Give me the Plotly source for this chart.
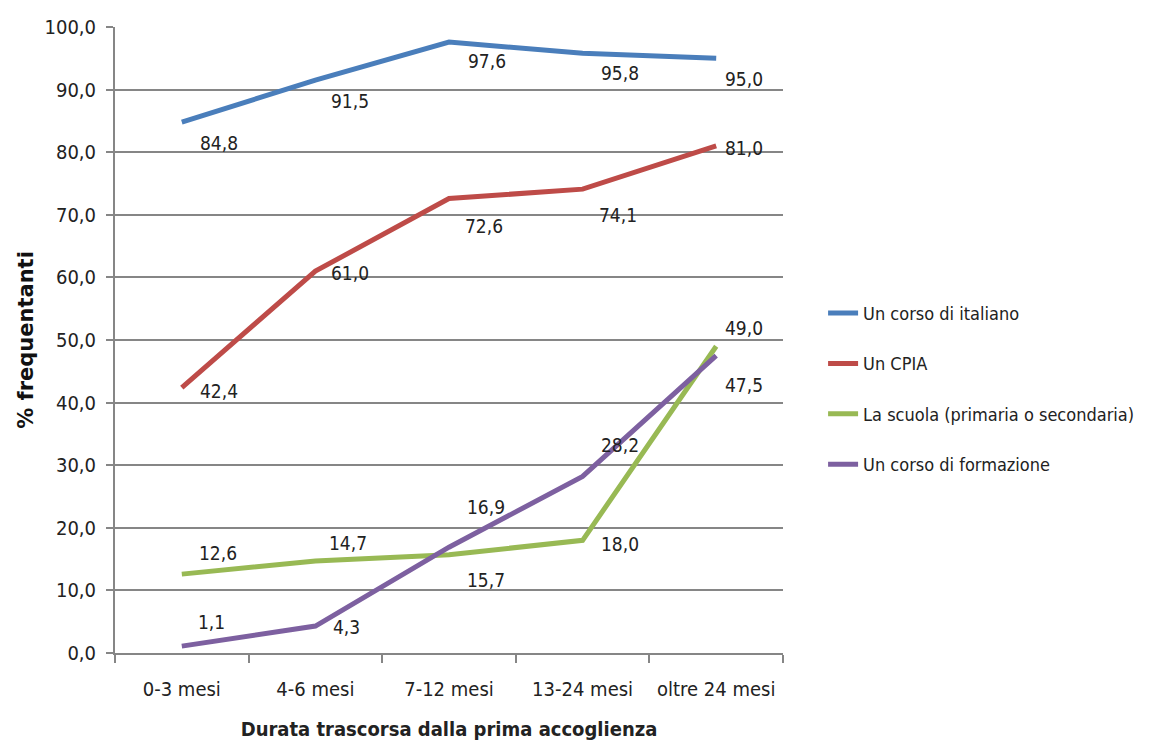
import plotly.graph_objects as go

categories = ["0-3 mesi", "4-6 mesi", "7-12 mesi", "13-24 mesi", "oltre 24 mesi"]
series_names = ["Un corso di italiano", "Un CPIA", "La scuola (primaria o secondaria)", "Un corso di formazione"]
italiano = [84.8, 91.5, 97.6, 95.8, 95.0]
cpia = [42.4, 61.0, 72.6, 74.1, 81.0]
scuola = [12.6, 14.7, 15.7, 18.0, 49.0]
formazione = [1.1, 4.3, 16.9, 28.2, 47.5]
y_ticks = [0, 10, 20, 30, 40, 50, 60, 70, 80, 90, 100]
y_tick_labels = ["0,0", "10,0", "20,0", "30,0", "40,0", "50,0", "60,0", "70,0", "80,0", "90,0", "100,0"]

series = [italiano, cpia, scuola, formazione]
colors = ["#4a7ebb", "#be4b48", "#98b954", "#7d60a0"]

# label pixel offsets (dx, dy down-positive) per series per point
label_offsets = [
    [(37, 21), (35, 21), (38, 19), (37, 20), (28, 21)],
    [(37, 3), (35, 2), (35, 27), (35, 26), (28, 2)],
    [(36, -21), (33, -18), (37, 25), (37, 4), (28, -18)],
    [(30, -24), (31, 1), (37, -40), (37, -31), (28, 29)],
]

FONT = "Liberation Sans Narrow, DejaVu Sans Condensed, Roboto Condensed, Roboto, sans-serif"

fig = go.Figure()
for i, (name, vals, col) in enumerate(zip(series_names, series, colors)):
    fig.add_trace(go.Scatter(
        x=categories, y=vals, mode="lines", name=name,
        line=dict(color=col, width=5), legendgroup=str(i),
    ))

annotations = []
for vals, offs in zip(series, label_offsets):
    for c, v, (dx, dy) in zip(categories, vals, offs):
        annotations.append(dict(
            x=c, y=v, xref="x", yref="y", text=f"{v:.1f}".replace(".", ","),
            showarrow=False, xshift=dx, yshift=-dy,
            font=dict(family=FONT, size=19, color="#222222"),
        ))

fig.update_layout(
    width=1144, height=734,
    margin=dict(l=107, r=369, t=19, b=89, autoexpand=False),
    paper_bgcolor="white", plot_bgcolor="white",
    font=dict(family=FONT, size=19, color="#222222"),
    showlegend=True,
    legend=dict(x=1.06, y=0.422, xanchor="left", yanchor="middle",
                font=dict(family=FONT, size=18, color="#222222"),
                tracegroupgap=24, itemwidth=30, bgcolor="rgba(0,0,0,0)"),
    annotations=annotations,
)
fig.update_xaxes(
    type="category", range=[-0.5, 4.5], automargin=False,
    showline=True, linecolor="#868686", linewidth=2,
    ticks="outside", tickson="boundaries", ticklen=8, tickcolor="#868686", tickwidth=2,
    showgrid=False, ticklabelstandoff=17,
    tickfont=dict(family=FONT, size=20, color="#222222"),
    title=dict(text="<b>Durata trascorsa dalla prima accoglienza</b>",
               font=dict(family=FONT, size=20, color="#222222"), standoff=22),
)
fig.update_yaxes(
    range=[0, 100], tickvals=y_ticks, ticktext=y_tick_labels, automargin=False,
    showline=True, linecolor="#868686", linewidth=2,
    ticks="outside", ticklen=7, tickcolor="#868686", tickwidth=2,
    showgrid=True, gridcolor="#868686", gridwidth=2,
    zeroline=False, ticklabelstandoff=6,
    tickfont=dict(family=FONT, size=20, color="#222222"),
    title=dict(text="<b>% frequentanti</b>",
               font=dict(family="DejaVu Sans, Verdana, sans-serif", size=21, color="#111111"), standoff=5),
)

fig.write_html("out.html")
